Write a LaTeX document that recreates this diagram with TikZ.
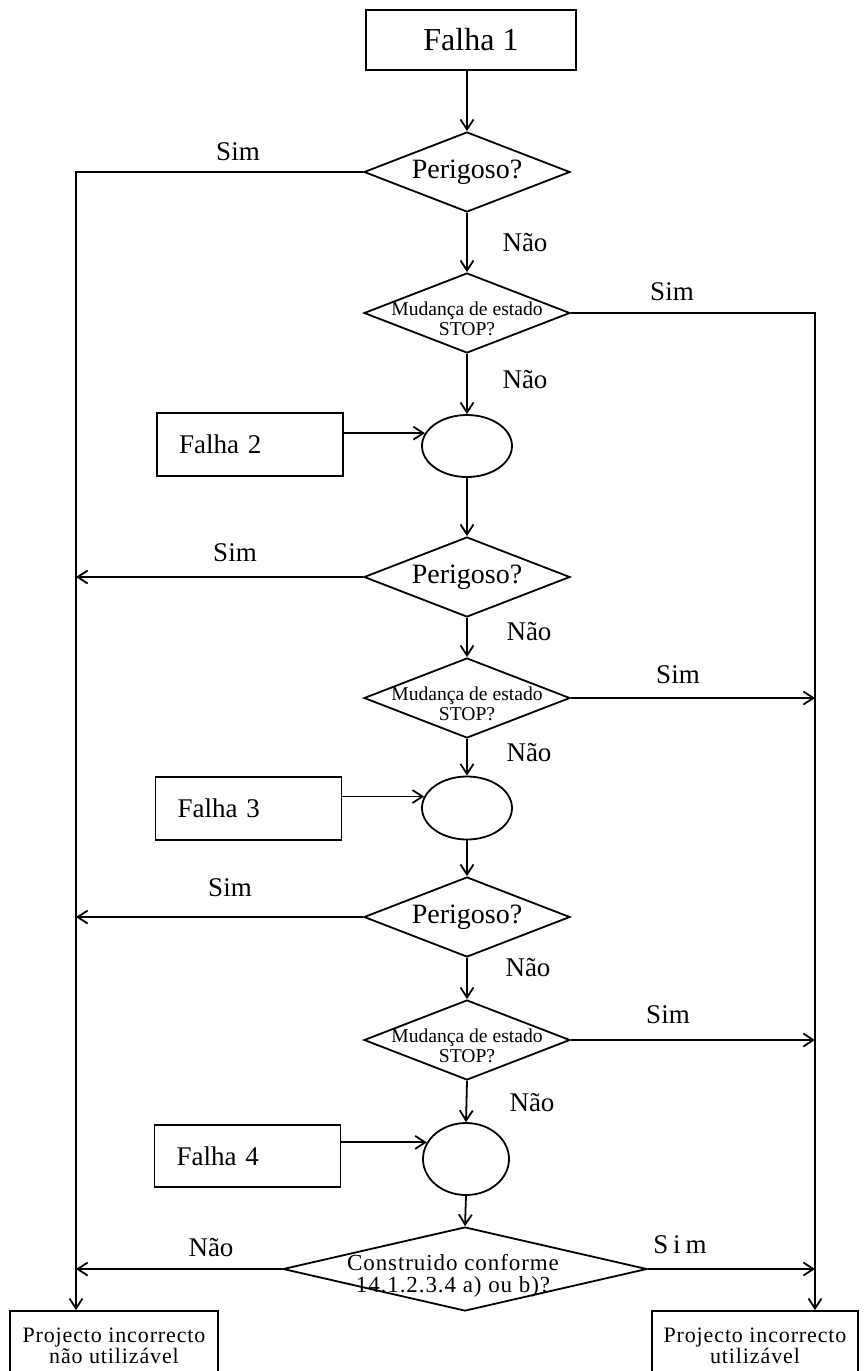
\documentclass[tikz,border=0pt]{standalone}
\usepackage{fontspec}
\setmainfont{Liberation Serif}
\usetikzlibrary{shapes.geometric,arrows.meta}
\begin{document}
\begin{tikzpicture}[x=0.5pt,y=-0.5pt,line width=0.9pt,
  arr/.style={-{Straight Barb[length=5pt,width=6.5pt]}},
  box/.style={draw,rectangle,inner sep=0pt},
  fbox/.style={box,text width=71pt,align=left,inner xsep=11pt,font=\fontsize{13.5}{15}\selectfont},
  dia/.style={draw,diamond,inner sep=0pt,minimum width=103pt,minimum height=40pt},
  ell/.style={draw,ellipse,inner sep=0pt},
  lbl/.style={font=\fontsize{13.5}{15}\selectfont},
  perig/.style={label={[font=\fontsize{14}{16}\selectfont]center:Perigoso?}},
  mudst/.style={label={[font=\fontsize{9.8}{10}\selectfont,align=center,yshift=-3pt]center:Mudança de estado\\STOP?}},
  proj/.style={box,align=center,font=\fontsize{11}{10.5}\selectfont\addfontfeature{LetterSpace=4}},
]
\useasboundingbox (0,0) rectangle (867,1371);

% main column
\node[box,minimum width=105pt,minimum height=30pt,font=\fontsize{16}{18}\selectfont] (f1) at (471,40) {Falha 1};
\node[dia,perig] (p1) at (467,172) {};
\node[dia,mudst] (m1) at (467,313) {};
\node[ell,minimum width=45pt,minimum height=31pt] (e1) at (467,446) {};
\node[dia,perig] (p2) at (467,577) {};
\node[dia,mudst] (m2) at (467,698) {};
\node[ell,minimum width=45pt,minimum height=31.5pt] (e2) at (467,808) {};
\node[dia,perig] (p3) at (467,917) {};
\node[dia,mudst] (m3) at (467,1040) {};
\node[ell,minimum width=43pt,minimum height=36pt] (e3) at (466,1159) {};
\node[dia,minimum width=182pt,minimum height=42pt,
  label={[font=\fontsize{11.5}{10.8}\selectfont\addfontfeature{LetterSpace=4},align=center,yshift=-3.5pt,xshift=-6pt]center:Construido conforme\\14.1.2.3.4 a) ou b)?}] (c) at (465,1269) {};

% fault boxes
\node[fbox,minimum height=31.5pt] (f2) at (250,444.5) {Falha 2};
\node[fbox,minimum height=31.5pt] (f3) at (248.5,808.5) {Falha 3};
\node[fbox,minimum height=31pt] (f4) at (247.5,1156) {Falha 4};

% result boxes
\node[proj,minimum width=104pt,minimum height=34.5pt] (lb) at (114,1345.5) {Projecto incorrecto\\não utilizável};
\node[proj,minimum width=103pt,minimum height=34.5pt] (rb) at (755,1345.5) {Projecto incorrecto\\utilizável};

% side lines
\coordinate (L) at (76,172);
\coordinate (R) at (815,313);

% connectors
\draw[arr] (f1.south -| p1.north) -- (p1.north);
\draw[arr] (p1.west) -- (L) -- (L |- lb.north);
\draw[arr] (p1.south) -- (m1.north);
\draw[arr] (m1.east) -- (R) -- (R |- rb.north);
\draw[arr] (m1.south) -- (e1.north);
\draw[arr] (f2.east |- e1.163) -- (e1.163);
\draw[arr] (e1.south) -- (p2.north);
\draw[arr] (p2.west) -- (p2.west -| L);
\draw[arr] (p2.south) -- (m2.north);
\draw[arr] (m2.east) -- (m2.east -| R);
\draw[arr] (m2.south) -- (e2.north);
\draw[arr] (f3.east |- e2.165) -- (e2.165);
\draw[arr] (e2.south) -- (p3.north);
\draw[arr] (p3.west) -- (p3.west -| L);
\draw[arr] (p3.south) -- (m3.north);
\draw[arr] (m3.east) -- (m3.east -| R);
\draw[arr] (m3.south) -- (e3.north);
\draw[arr] (f4.east |- e3.157) -- (e3.157);
\draw[arr] (e3.south) -- (c.north);
\draw[arr] (c.west) -- (c.west -| L);
\draw[arr] (c.east) -- (c.east -| R);

% labels
\node[lbl] (s1) at (238,152) {Sim};
\node[lbl] (n1) at (525,243) {Não};
\node[lbl] (s2) at (672,292) {Sim};
\node[lbl] (n2) at (525,380) {Não};
\node[lbl] (s3) at (235,553) {Sim};
\node[lbl] (n3) at (529,632) {Não};
\node[lbl] (s4) at (678,675) {Sim};
\node[lbl] (n4) at (529,753) {Não};
\node[lbl] (s5) at (230,888) {Sim};
\node[lbl] (n5) at (528,968) {Não};
\node[lbl] (s6) at (668,1015) {Sim};
\node[lbl] (n6) at (532,1103) {Não};
\node[lbl] (n7) at (211,1248) {Não};
\node[lbl,font=\fontsize{13.5}{15}\selectfont\addfontfeature{LetterSpace=18}] (s7) at (680,1245) {Sim};
\end{tikzpicture}
\end{document}
